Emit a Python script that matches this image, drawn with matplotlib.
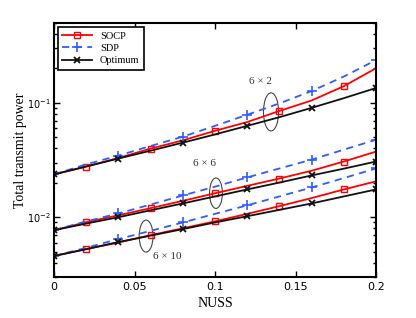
import numpy as np
import matplotlib
matplotlib.use("Agg")
from matplotlib import pyplot as plt
from matplotlib.patches import Ellipse

nuss = [0, 0.02, 0.04, 0.06, 0.08, 0.10, 0.12, 0.14, 0.16, 0.18, 0.20]

# 6 x 2
socp_62 = [0.0237, 0.0277, 0.0330, 0.0398, 0.0470, 0.0570, 0.0680, 0.0850, 0.1050, 0.1400, 0.2010]
sdp_62 = [0.0237, 0.0290, 0.0346, 0.0420, 0.0506, 0.0630, 0.0787, 0.0990, 0.1270, 0.1700, 0.2370]
opt_62 = [0.0237, 0.0278, 0.0326, 0.0382, 0.0449, 0.0530, 0.0630, 0.0750, 0.0905, 0.1100, 0.1350]
# 6 x 6
socp_66 = [0.0077, 0.00905, 0.0104, 0.0120, 0.0139, 0.0162, 0.0188, 0.0218, 0.0255, 0.0307, 0.0375]
sdp_66 = [0.0077, 0.0092, 0.0108, 0.0129, 0.0155, 0.0185, 0.0223, 0.0267, 0.0319, 0.0390, 0.0476]
opt_66 = [0.0077, 0.0088, 0.0100, 0.0115, 0.0132, 0.0152, 0.0175, 0.0201, 0.0232, 0.0266, 0.0307]
# 6 x 10
socp_610 = [0.00458, 0.00527, 0.00600, 0.00697, 0.00800, 0.0092, 0.0107, 0.0125, 0.0147, 0.0175, 0.0206]
sdp_610 = [0.00458, 0.00540, 0.00644, 0.00760, 0.0090, 0.0107, 0.0127, 0.0152, 0.0182, 0.0220, 0.0267]
opt_610 = [0.00458, 0.00525, 0.00607, 0.00690, 0.00787, 0.0090, 0.0102, 0.0116, 0.0132, 0.0152, 0.0175]

serif = 'Liberation Serif'

fig = plt.figure(figsize=(4.16, 3.18), dpi=100)
ax = fig.add_axes([54 / 416, 1 - 277 / 318, 322 / 416, 254 / 318])

groups = [(socp_62, sdp_62, opt_62), (socp_66, sdp_66, opt_66), (socp_610, sdp_610, opt_610)]
for i, (s, d, o) in enumerate(groups):
    ax.plot(nuss, s, color='red', lw=1.3, marker='s', ms=4.5, mfc='none', mew=1,
            markevery=slice(1, None, 2), label='SOCP' if i == 0 else None)
    ax.plot(nuss, d, color='#2e5cff', lw=1.3, ls=(0, (4, 3)), marker='+', ms=7, mew=1.2,
            markevery=slice(0, None, 2), label='SDP' if i == 0 else None)
    ax.plot(nuss, o, color='#111111', lw=1.3, marker='x', ms=4.5, mew=1.3,
            markevery=slice(0, None, 2), label='Optimum' if i == 0 else None)

ax.set_yscale('log')
ax.set_xlim(0, 0.2)
ax.set_ylim(3e-3, 0.5)
ax.set_xticks([0, 0.05, 0.1, 0.15, 0.2])
ax.set_xticklabels(['0', '0.05', '0.1', '0.15', '0.2'])
ax.tick_params(which='both', direction='in', top=True, right=True, labelsize=8, width=1)
ax.tick_params(axis='y', labelsize=7, pad=2.5)
ax.tick_params(which='major', length=4)
ax.tick_params(which='minor', length=2.5)
for sp in ax.spines.values():
    sp.set_linewidth(1.5)

ax.set_xlabel('NUSS', family=serif, fontsize=10)
ax.set_ylabel('Total transmit power', family=serif, fontsize=10)
ax.yaxis.set_label_coords(-0.085, 0.5)

leg = ax.legend(loc='upper left', prop={'family': serif, 'size': 7.5}, fancybox=False,
                edgecolor='black', framealpha=1, handlelength=2.8, borderaxespad=0.4,
                labelspacing=0.3, borderpad=0.4)
leg.get_frame().set_linewidth(1.2)

ellipses = [((0.674, 0.650), 0.047, 0.150), ((0.503, 0.33), 0.040, 0.12), ((0.286, 0.161), 0.043, 0.126)]
for (cx, cy), w, h in ellipses:
    ax.add_patch(Ellipse((cx, cy), w, h, transform=ax.transAxes, fill=False, ec='#444444', lw=0.8))
ax.text(0.640, 0.768, '6 × 2', transform=ax.transAxes, family=serif, fontsize=8,
        ha='center', va='center', color='#333333')
ax.text(0.466, 0.446, '6 × 6', transform=ax.transAxes, family=serif, fontsize=8,
        ha='center', va='center', color='#333333')
ax.text(0.351, 0.079, '6 × 10', transform=ax.transAxes, family=serif, fontsize=8,
        ha='center', va='center', color='#333333')

fig.savefig('out.png', dpi=100)
